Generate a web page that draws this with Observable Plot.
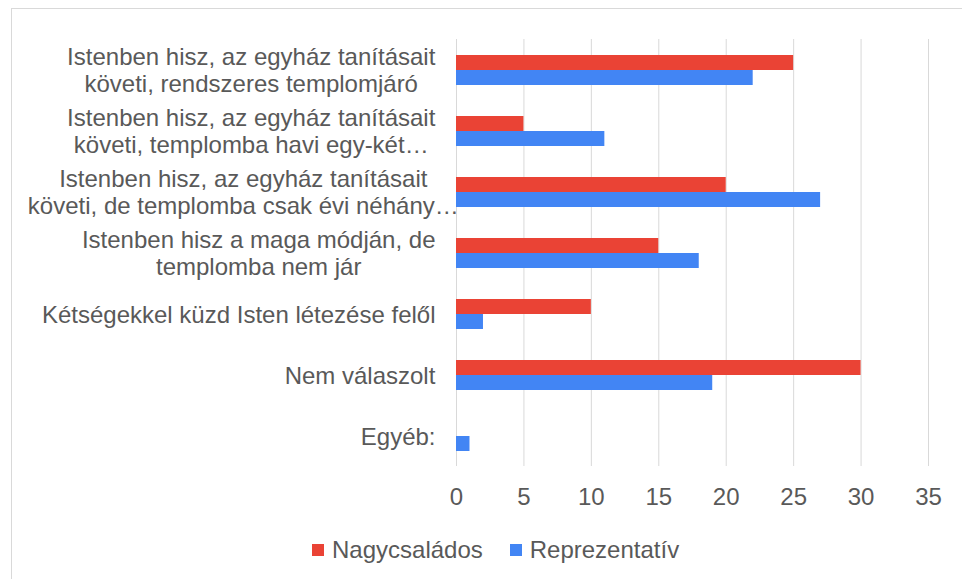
<!DOCTYPE html>
<html>
<head>
<meta charset="utf-8">
<script src="https://cdn.jsdelivr.net/npm/d3@7"></script>
<script src="https://cdn.jsdelivr.net/npm/@observablehq/plot@0.6"></script>
<style>
  html, body { margin: 0; padding: 0; background: #fff; }
  body { width: 962px; height: 579px; position: relative; overflow: hidden; font-family: "Liberation Sans", Arial, sans-serif; }
  #frame { position: absolute; left: 11px; top: 8px; width: 1000px; height: 1000px; border-top: 1px solid #d9d9d9; border-left: 1px solid #d9d9d9; }
  #chart { position: absolute; left: 0; top: 0; }
  #legend { position: absolute; left: 312px; top: 536px; display: flex; align-items: center; font-size: 24px; color: #595959; white-space: nowrap; }
  .item { display: flex; align-items: center; margin-right: 27px; }
  .sw { width: 12px; height: 12px; margin-right: 8px; }
</style>
</head>
<body>
<div id="frame"></div>
<div id="chart"></div>
<div id="legend"></div>
<script>
const categories = [
  "Istenben hisz, az egyház tanításait\nköveti, rendszeres templomjáró",
  "Istenben hisz, az egyház tanításait\nköveti, templomba havi egy-két…",
  "Istenben hisz, az egyház tanításait\nköveti, de templomba csak évi néhány…",
  "Istenben hisz a maga módján, de\ntemplomba nem jár",
  "Kétségekkel küzd Isten létezése felől",
  "Nem válaszolt",
  "Egyéb:"
];
const series = ["Nagycsaládos", "Reprezentatív"];
const nagycsalados = [25, 5, 20, 15, 10, 30, 0];
const reprezentativ = [22, 11, 27, 18, 2, 19, 1];
const colors = ["#EA4335", "#4285F4"];
const xTicks = [0, 5, 10, 15, 20, 25, 30, 35];

const rows = categories.flatMap((c, i) => [
  {category: c, series: series[0], value: nagycsalados[i]},
  {category: c, series: series[1], value: reprezentativ[i]}
]);

const chart = Plot.plot({
  width: 962,
  height: 520,
  marginLeft: 456,
  marginRight: 34,
  marginTop: 38,
  marginBottom: 53,
  style: {fontFamily: "'Liberation Sans', Arial, sans-serif", color: "#595959", background: "transparent"},
  x: {domain: [0, 35], label: null},
  fy: {domain: categories, padding: 0, label: null},
  y: {domain: series, paddingInner: 0, paddingOuter: 0.92, axis: null},
  color: {domain: series, range: colors},
  marks: [
    Plot.gridX(xTicks, {stroke: "#d9d9d9", strokeOpacity: 1, strokeWidth: 1}),
    Plot.barX(rows, {x: "value", y: "series", fy: "category", fill: "series"}),
    Plot.axisX({ticks: xTicks, tickSize: 0, tickPadding: 21, fontSize: 24, label: null}),
    Plot.axisFy({anchor: "left", tickSize: 0, tickPadding: 21, fontSize: 24, lineHeight: 1.11, label: null})
  ]
});
document.getElementById("chart").appendChild(chart);

// center the lines of each category label inside its block (as in the original)
const svgLeft = chart.getBoundingClientRect().left;
chart.querySelectorAll('g[aria-label="fy-axis tick label"] text').forEach(t => {
  const rect = t.getBoundingClientRect();
  const w = rect.width;
  const right = rect.right - svgLeft;
  const left = Math.max(28, right - w);
  const off = left + w / 2 - right;
  t.setAttribute("text-anchor", "middle");
  const spans = t.querySelectorAll("tspan");
  if (spans.length) spans.forEach(s => s.setAttribute("x", off));
  else t.setAttribute("x", off);
});

const legend = document.getElementById("legend");
series.forEach((s, i) => {
  const item = document.createElement("div");
  item.className = "item";
  const sw = document.createElement("div");
  sw.className = "sw";
  sw.style.background = colors[i];
  const lab = document.createElement("span");
  lab.textContent = s;
  item.appendChild(sw);
  item.appendChild(lab);
  legend.appendChild(item);
});
</script>
</body>
</html>
